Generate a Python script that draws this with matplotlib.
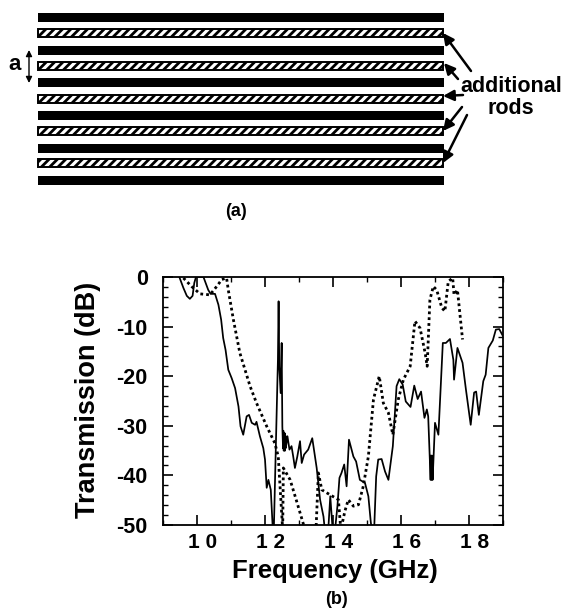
import matplotlib
matplotlib.use("Agg")
import matplotlib.pyplot as plt
from matplotlib.patches import Rectangle
from matplotlib.transforms import ScaledTranslation

plt.rcParams['font.family'] = ['Liberation Sans', 'DejaVu Sans']
plt.rcParams['font.weight'] = 'bold'
plt.rcParams['hatch.linewidth'] = 2.0

# solid curve
solid_f = [9.48, 9.60, 9.70, 9.79, 9.87, 9.92, 9.97, 10.19, 10.33, 10.40, 10.53, 10.63, 10.71, 10.77, 10.84,
           10.92, 11.02, 11.12, 11.22, 11.28, 11.36, 11.46, 11.53, 11.61, 11.71, 11.75, 11.85, 11.95, 12.00,
           12.05, 12.10, 12.17, 12.23, 12.26, 12.32, 12.38, 12.40, 12.42, 12.46, 12.49, 12.51, 12.53, 12.54,
           12.55, 12.56, 12.57, 12.58, 12.59, 12.60, 12.61,
           12.62, 12.66, 12.72, 12.78, 12.83, 12.88, 12.95, 13.03, 13.08, 13.15, 13.27, 13.39, 13.47, 13.52,
           13.62, 13.72, 13.76, 13.86, 13.92, 13.99, 14.06, 14.13, 14.19, 14.25, 14.33, 14.40, 14.47, 14.60,
           14.68, 14.79, 14.94, 15.04, 15.11, 15.14, 15.21, 15.27, 15.33, 15.43, 15.53, 15.63, 15.76, 15.87,
           15.95, 16.05, 16.14, 16.28, 16.39, 16.49, 16.59, 16.69, 16.76, 16.80, 16.87, 16.88, 16.90, 16.91, 16.93, 17.00, 17.10,
           17.23, 17.32, 17.44, 17.54, 17.56, 17.66, 17.81, 17.91, 18.05, 18.15, 18.21, 18.29, 18.42, 18.49,
           18.57, 18.70, 18.79, 18.89, 18.99]
solid_db = [0, -2.2, -3.8, -4.4, -3.8, -1.2, 0, 0, -2.6, -3.4, -3.4, -5.6, -8.6, -12.3, -14.7,
            -18.7, -20.4, -22.4, -26.1, -30.1, -31.8, -28.1, -27.8, -29.4, -29.8, -29.2, -32.1, -34.5, -36.8,
            -42.5, -40.9, -42.9, -51, -51, -34.1, -16.7, -4.9, -18, -23.4, -13.3, -30.1, -34.5, -31,
            -35, -31.5, -35, -31.5, -35, -32, -34.5,
            -34.1, -32.1, -34.8, -34.1, -36.2, -38.5, -36.2, -33.1, -37.5, -35.8, -34.8, -32.5, -36.2, -38.5,
            -44.9, -48.3, -51, -51, -44.2, -51, -51, -46.2, -40.5, -39.5, -37.8, -42.2, -32.8, -36.2,
            -37.2, -40.9, -41.5, -44.2, -49.3, -51, -51, -40.2, -36.8, -36.7, -39.2, -40.9, -34.1, -22,
            -20.6, -21.7, -25.1, -26.2, -21.9, -24.6, -23.1, -28.4, -26.7, -28.1, -40.9, -36, -40.9, -36, -40.9, -29.4, -31.8,
            -13.3, -13.3, -12.5, -16.7, -20.7, -14.3, -17.3, -22.7, -29.8, -23.3, -23.1, -27.8, -21, -19.7,
            -14.3, -12.8, -10.6, -10.5, -11.8]

# dotted curve
dotted_f = [9.60, 9.84, 10.09, 10.38, 10.58, 10.73, 10.87, 10.92, 11.07, 11.26, 11.56, 11.75, 12.05, 12.29,
            12.39, 12.52, 12.54, 12.74, 12.93, 13.18, 13.50, 13.57, 13.67, 13.91, 14.16, 14.23, 14.35, 14.45,
            14.60, 14.75, 14.89, 15.04, 15.19, 15.36, 15.48, 15.63, 15.76, 15.92, 16.07, 16.27, 16.41, 16.56,
            16.71, 16.77, 16.85, 16.95, 17.05, 17.20, 17.29, 17.39, 17.52, 17.56, 17.66, 17.81]
dotted_db = [-0.2, -1.9, -3.4, -3.6, -1.9, -0.5, -0.2, -2.6, -8.6, -15.3, -22, -25.4, -30.1, -33.5,
             -36.2, -51, -38.5, -40.9, -45.2, -51, -51, -39.5, -42.9, -43.9, -44.9, -51, -47.2, -44.9,
             -46.2, -45.9, -42.2, -36.2, -24.7, -20, -25.4, -27.4, -31.8, -24.7, -20.7, -18, -8.9, -10.3,
             -15.3, -18, -4.6, -1.9, -2.6, -6.2, -6.9, -0.9, -0.2, -3.6, -2.6, -12.6]

x_ticks = [10, 12, 14, 16, 18]
y_ticks = [0, -10, -20, -30, -40, -50]
y_minor = [-2, -4, -6, -8, -12, -14, -16, -18, -22, -24, -26, -28, -32, -34, -36, -38, -42, -44, -46, -48]
x_minor = [9, 11, 13, 15, 17, 19]

# rod diagram, in picture pixels
black_rods = [17, 50, 82, 115, 148, 180]
hatched_rods = [33, 66, 99, 131, 163]
arrow_starts = [(471, 71), (458, 79), (463, 95), (462, 107), (467, 115)]
arrow_ends = [(443, 33), (444, 63), (443, 96), (443, 131), (443, 163)]

W, H = 563, 611
fig = plt.figure(figsize=(W / 100, H / 100), dpi=100)

top = fig.add_axes([0, 0, 1, 1])
top.set_xlim(0, W)
top.set_ylim(H, 0)
top.axis('off')

for y in black_rods:
    top.add_patch(Rectangle((38, y - 4.5), 406, 9, facecolor='black', edgecolor='none'))
for y in hatched_rods:
    top.add_patch(Rectangle((38, y - 4), 405, 8, facecolor='white', edgecolor='black', hatch='////', linewidth=1.4))

for s, e in zip(arrow_starts, arrow_ends):
    top.annotate('', xy=e, xytext=s,
                 arrowprops=dict(arrowstyle='-|>', color='black', lw=1.8, mutation_scale=16, shrinkA=0, shrinkB=0))
top.annotate('', xy=(29, 83), xytext=(29, 50),
             arrowprops=dict(arrowstyle='<|-|>', color='black', lw=1, mutation_scale=9, shrinkA=0, shrinkB=0))

top.text(15, 65, 'a', fontsize=16, ha='center', va='center')
top.text(511, 86, 'additional', fontsize=15.5, ha='center', va='center')
top.text(511, 109, 'rods', fontsize=15.5, ha='center', va='center')
top.text(236, 211, '(a)', fontsize=13, ha='center', va='center')

ax = fig.add_axes([163 / W, 1 - 525 / H, 340 / W, 248 / H])
ax.plot(solid_f, solid_db, color='black', lw=1.25)
ax.plot(dotted_f, dotted_db, color='black', lw=2, linestyle=(0, (1, 1.1)))
ax.set_xlim(9, 19)
ax.set_ylim(-50, 0)

ax.set_xticks(x_ticks)
ax.set_xticklabels([' '.join(str(t)) for t in x_ticks], fontsize=15)
ax.set_xticks(x_minor, minor=True)
ax.set_yticks(y_ticks)
ax.set_yticklabels([str(t) for t in y_ticks], fontsize=15.5)
ax.set_yticks(y_minor, minor=True)
ax.tick_params(which='major', direction='in', length=7, width=1.2, top=True, right=True)
ax.tick_params(axis='y', which='major', pad=11)
ax.tick_params(axis='x', which='major', pad=6)
ax.tick_params(which='minor', direction='in', length=3.5, width=1, top=True, right=True)
for lab in ax.get_xticklabels():
    lab.set_transform(lab.get_transform() + ScaledTranslation(6 / 100, 0, fig.dpi_scale_trans))
for s in ax.spines.values():
    s.set_linewidth(1.3)

top.text(88, 400, 'Transmission (dB)', fontsize=19.5, rotation=90, ha='center', va='center')
top.text(335, 571, 'Frequency (GHz)', fontsize=18.5, ha='center', va='center')
top.text(337, 600, '(b)', fontsize=13, ha='center', va='center')

fig.savefig('out.png', dpi=100)
